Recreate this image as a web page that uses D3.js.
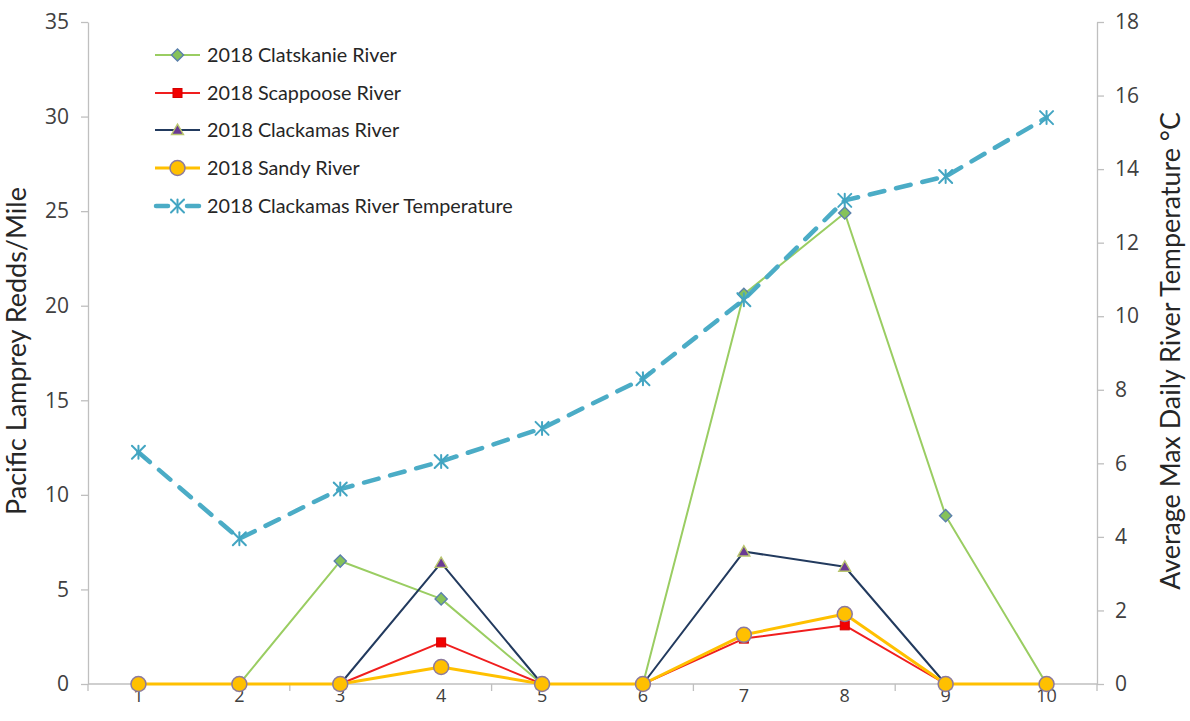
<!DOCTYPE html>
<html>
<head>
<meta charset="utf-8">
<script src="https://cdn.jsdelivr.net/npm/d3@7"></script>
<style>
  html, body { margin: 0; padding: 0; background: #ffffff; }
  svg { display: block; }
</style>
</head>
<body>
<svg id="chart" width="1190" height="721"></svg>
<script>
// Survey periods along the x axis
const categories = [1, 2, 3, 4, 5, 6, 7, 8, 9, 10];

// Redds per mile by river (left axis)
const clatskanie = [0, 0, 6.5, 4.5, 0, 0, 20.6, 24.9, 8.9, 0];
const scappoose  = [0, 0, 0, 2.2, 0, 0, 2.4, 3.1, 0, 0];
const clackamas  = [0, 0, 0, 6.4, 0, 0, 7.0, 6.2, 0, 0];
const sandy      = [0, 0, 0, 0.9, 0, 0, 2.6, 3.7, 0, 0];

// Average max daily temperature, Clackamas River (right axis, °C)
const temperature = [6.3, 3.95, 5.3, 6.05, 6.95, 8.3, 10.45, 13.15, 13.8, 15.4];

// Axis tick values
const leftTicks  = [0, 5, 10, 15, 20, 25, 30, 35];
const rightTicks = [0, 2, 4, 6, 8, 10, 12, 14, 16, 18];

const seriesNames = [
  "2018 Clatskanie River",
  "2018 Scappoose River",
  "2018 Clackamas River",
  "2018 Sandy River",
  "2018 Clackamas River Temperature"
];

const svg = d3.select("#chart");
const plot = { left: 88, right: 1097, top: 22, bottom: 684 };
const axisColor = "#BFBFBF";
const textColor = "#404040";

const x = d3.scaleBand().domain(categories).range([plot.left, plot.right]).padding(0);
const cx = d => x(d) + x.bandwidth() / 2;
const yL = d3.scaleLinear().domain([0, 35]).range([plot.bottom, plot.top]);
const yR = d3.scaleLinear().domain([0, 18]).range([plot.bottom, plot.top]);

// ---- Axes ----
const styleAxis = g => {
  g.select(".domain").attr("stroke", axisColor).attr("stroke-width", 1.3);
  g.selectAll(".tick line").attr("stroke", axisColor).attr("stroke-width", 1.3);
  g.selectAll(".tick text").attr("fill", textColor)
    .attr("font-family", "'Open Sans', sans-serif").attr("font-size", 21);
};

svg.append("g")
  .attr("transform", `translate(${plot.left},0)`)
  .call(d3.axisLeft(yL).tickValues(leftTicks).tickSize(7).tickPadding(12).tickSizeOuter(0))
  .call(styleAxis);

svg.append("g")
  .attr("transform", `translate(${plot.right},0)`)
  .call(d3.axisRight(yR).tickValues(rightTicks).tickSize(7).tickPadding(11).tickSizeOuter(0))
  .call(styleAxis);

// Category axis: labels at band centres, tick marks every second band boundary
const xAxis = svg.append("g").attr("transform", `translate(0,${plot.bottom})`);
xAxis.append("line")
  .attr("x1", plot.left).attr("x2", plot.right)
  .attr("stroke", axisColor).attr("stroke-width", 1.3);
const boundaries = d3.range(0, categories.length + 1, 2)
  .map(i => i < categories.length ? x(categories[i]) : plot.right);
xAxis.selectAll("line.tick").data(boundaries).join("line")
  .attr("class", "tick")
  .attr("x1", d => d).attr("x2", d => d)
  .attr("y1", 0).attr("y2", 7)
  .attr("stroke", axisColor).attr("stroke-width", 1.3);
xAxis.selectAll("text").data(categories).join("text")
  .attr("x", d => cx(d)).attr("y", 18)
  .attr("text-anchor", "middle")
  .attr("fill", textColor)
  .attr("font-family", "'Open Sans', sans-serif")
  .attr("font-size", 18)
  .text(d => d);

// Fit a text element's font size to a target length
function fitText(sel, target) {
  const base = +sel.attr("font-size");
  const len = sel.node().getComputedTextLength();
  sel.attr("font-size", (base * target / len).toFixed(2));
}

// Axis titles
const leftTitle = svg.append("text")
  .attr("transform", `translate(26,351) rotate(-90)`)
  .attr("text-anchor", "middle")
  .attr("fill", "#262626")
  .attr("font-family", "Lato, sans-serif")
  .attr("font-size", 22)
  .text("Pacific Lamprey Redds/Mile");
fitText(leftTitle, 328);

const rightTitle = svg.append("text")
  .attr("transform", `translate(1180,351) rotate(-90)`)
  .attr("text-anchor", "middle")
  .attr("fill", "#262626")
  .attr("font-family", "Lato, sans-serif")
  .attr("font-size", 22)
  .text("Average Max Daily River Temperature °C");
fitText(rightTitle, 478);

// ---- Marker drawers ----
const markers = {
  diamond: (g, px, py) => g.append("rect")
    .attr("x", -4.3).attr("y", -4.3).attr("width", 8.6).attr("height", 8.6)
    .attr("transform", `translate(${px},${py}) rotate(45)`)
    .attr("fill", "#86C25A").attr("stroke", "#5B80AC").attr("stroke-width", 1.4),
  square: (g, px, py) => g.append("rect")
    .attr("x", px - 4.5).attr("y", py - 4.5).attr("width", 9).attr("height", 9)
    .attr("fill", "#F20000").attr("stroke", "#D40000").attr("stroke-width", 1),
  triangle: (g, px, py) => g.append("path")
    .attr("d", d3.symbol(d3.symbolTriangle, 62)())
    .attr("transform", `translate(${px},${py + 1})`)
    .attr("fill", "#6A3A94").attr("stroke", "#B9C66E").attr("stroke-width", 1.4),
  circle: (g, px, py) => g.append("circle")
    .attr("cx", px).attr("cy", py).attr("r", 7.5)
    .attr("fill", "#FFC000").attr("stroke", "#8C7A9E").attr("stroke-width", 1.5),
  asterisk: (g, px, py) => {
    const s = 6.5;
    const a = g.append("g").attr("transform", `translate(${px},${py})`)
      .attr("stroke", "#43A5C2").attr("stroke-width", 2).attr("stroke-linecap", "round");
    a.append("line").attr("x1", 0).attr("y1", -s).attr("x2", 0).attr("y2", s);
    a.append("line").attr("x1", -s).attr("y1", -s).attr("x2", s).attr("y2", s);
    a.append("line").attr("x1", -s).attr("y1", s).attr("x2", s).attr("y2", -s);
    return a;
  }
};

const series = [
  { name: seriesNames[0], values: clatskanie, scale: yL, color: "#9ACD62", width: 2,   marker: "diamond" },
  { name: seriesNames[1], values: scappoose,  scale: yL, color: "#F01E1E", width: 2,   marker: "square" },
  { name: seriesNames[2], values: clackamas,  scale: yL, color: "#223A5E", width: 2,   marker: "triangle" },
  { name: seriesNames[3], values: sandy,      scale: yL, color: "#FFC000", width: 3,   marker: "circle" },
  { name: seriesNames[4], values: temperature, scale: yR, color: "#4BACC6", width: 4.5, marker: "asterisk", dash: "15,12" }
];

// ---- Series lines and markers ----
series.forEach(s => {
  const g = svg.append("g");
  const pts = categories.map((c, i) => [cx(c), s.scale(s.values[i])]);
  g.append("path")
    .attr("d", d3.line()(pts))
    .attr("fill", "none")
    .attr("stroke", s.color)
    .attr("stroke-width", s.width)
    .attr("stroke-linejoin", "round")
    .attr("stroke-linecap", s.dash ? "round" : "butt")
    .attr("stroke-dasharray", s.dash || null);
  pts.forEach(p => markers[s.marker](g, p[0], p[1]));
});

// ---- Legend ----
const legendY = [55, 93, 130, 168, 206];
const legend = svg.append("g");
series.forEach((s, i) => {
  const ly = legendY[i];
  if (s.dash) {
    legend.append("line").attr("x1", 156).attr("x2", 168).attr("y1", ly).attr("y2", ly)
      .attr("stroke", s.color).attr("stroke-width", s.width).attr("stroke-linecap", "round");
    legend.append("line").attr("x1", 187).attr("x2", 199).attr("y1", ly).attr("y2", ly)
      .attr("stroke", s.color).attr("stroke-width", s.width).attr("stroke-linecap", "round");
  } else {
    legend.append("line").attr("x1", 155).attr("x2", 200).attr("y1", ly).attr("y2", ly)
      .attr("stroke", s.color).attr("stroke-width", s.width);
  }
  markers[s.marker](legend, 177.5, ly);
  const t = legend.append("text")
    .attr("x", 207).attr("y", ly).attr("dy", "0.35em")
    .attr("fill", "#262626")
    .attr("font-family", "Lato, sans-serif")
    .attr("font-size", 17)
    .text(s.name);
  if (i === 4) fitText(t, 306);
});
// Use one font size for all legend entries
const legendSize = legend.selectAll("text").filter((d, i, n) => i === 4).attr("font-size");
legend.selectAll("text").attr("font-size", legendSize);
</script>
</body>
</html>
